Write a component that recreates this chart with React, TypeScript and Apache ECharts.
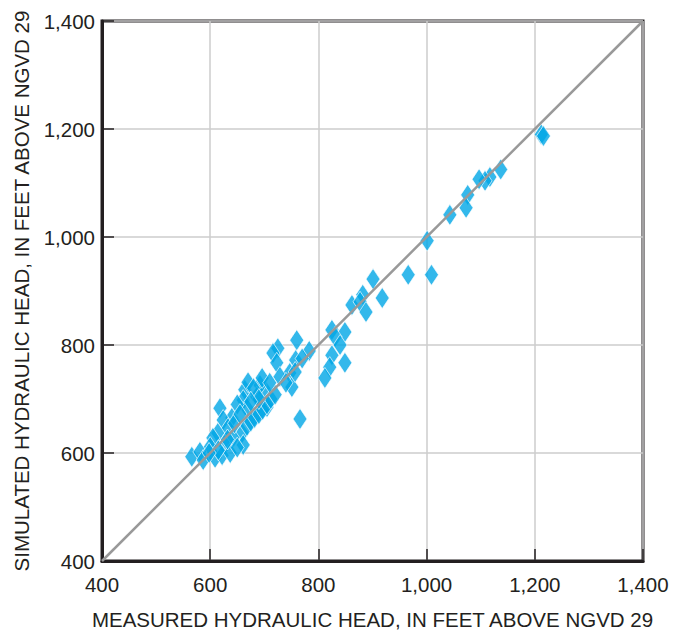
import React, { useEffect, useRef } from "react";
import * as echarts from "echarts";

const measured = [
  1212, 1216, 1137, 1117, 1108, 1097, 1076, 1073, 1043, 1001, 966, 1009, 901, 918, 882, 862, 877, 888,
  825, 849, 831, 840, 825, 821, 812, 849, 766, 760, 783, 758, 747, 751, 725, 716, 723, 757, 729, 701,
  692, 705, 686, 664, 670, 661, 668, 618, 640, 624, 633, 614, 659, 605, 642, 600, 627, 566, 581, 587,
  609, 622, 637, 661, 696, 668, 675, 682, 690, 697, 705, 712, 720, 740, 770,
  650, 645, 655, 680, 690, 710, 632, 615, 598, 650, 675,
];
const simulated = [
  1190, 1187, 1125, 1111, 1104, 1107, 1078, 1054, 1041, 993, 930, 930, 922, 887, 893, 874, 880, 861,
  828, 824, 815, 800, 781, 759, 739, 767, 663, 809, 789, 772, 748, 722, 794, 785, 767, 750, 741, 717,
  726, 685, 704, 717, 731, 698, 683, 683, 665, 661, 646, 637, 637, 628, 628, 611, 615, 593, 602, 587,
  591, 596, 600, 615, 739, 650, 658, 665, 672, 680, 690, 700, 708, 730, 775,
  690, 655, 672, 720, 700, 730, 625, 605, 600, 610, 695,
];
const oneToOne = [400, 1400];
const ticks = [400, 600, 800, 1000, 1200, 1400];

const fmt = (v: number) => v.toLocaleString("en-US");

export default function App() {
  const ref = useRef<HTMLDivElement>(null);
  useEffect(() => {
    if (!ref.current) return;
    const chart = echarts.init(ref.current, undefined, { renderer: "svg" });
    const font = "'Liberation Sans', Arial, sans-serif";
    const axisCommon = {
      type: "value" as const,
      min: ticks[0],
      max: ticks[ticks.length - 1],
      interval: 200,
      nameLocation: "middle" as const,
      nameTextStyle: { fontFamily: font, fontSize: 20.5, color: "#231f20" },
      axisLine: { show: true, lineStyle: { color: "#231f20", width: 3 } },
      axisTick: { show: true, inside: true, length: 12, lineStyle: { color: "#231f20", width: 1.5 } },
      splitLine: { show: true, lineStyle: { color: "#cccccc", width: 1.5 } },
      axisLabel: { fontFamily: font, fontSize: 20.5, color: "#231f20", formatter: (v: number) => fmt(v) },
    };
    chart.setOption({
      animation: false,
      backgroundColor: "#ffffff",
      grid: {
        left: 102,
        top: 21,
        width: 541,
        height: 540,
        show: true,
        borderColor: "#231f20",
        borderWidth: 3,
        containLabel: false,
      },
      xAxis: {
        ...axisCommon,
        name: "MEASURED HYDRAULIC HEAD, IN FEET ABOVE NGVD 29",
        nameGap: 48,
        axisLabel: { ...axisCommon.axisLabel, margin: 13 },
      },
      yAxis: {
        ...axisCommon,
        name: "SIMULATED HYDRAULIC HEAD, IN FEET ABOVE NGVD 29",
        nameGap: 70,
        axisLabel: { ...axisCommon.axisLabel, margin: 7 },
      },
      series: [
        {
          type: "scatter",
          symbol: "diamond",
          symbolSize: [14, 21],
          itemStyle: { color: "#00a6e6", borderColor: "#ffffff", borderWidth: 0.8 },
          data: measured.map((m, i) => [m, simulated[i]]),
          z: 2,
        },
        {
          type: "line",
          symbol: "none",
          lineStyle: { color: "#999999", width: 2.5 },
          data: oneToOne.map((v) => [v, v]),
          z: 3,
        },
      ],
    });
    return () => chart.dispose();
  }, []);
  return (
    <div
      ref={ref}
      style={{ position: "fixed", left: 0, top: 0, width: 689, height: 636 }}
    />
  );
}
